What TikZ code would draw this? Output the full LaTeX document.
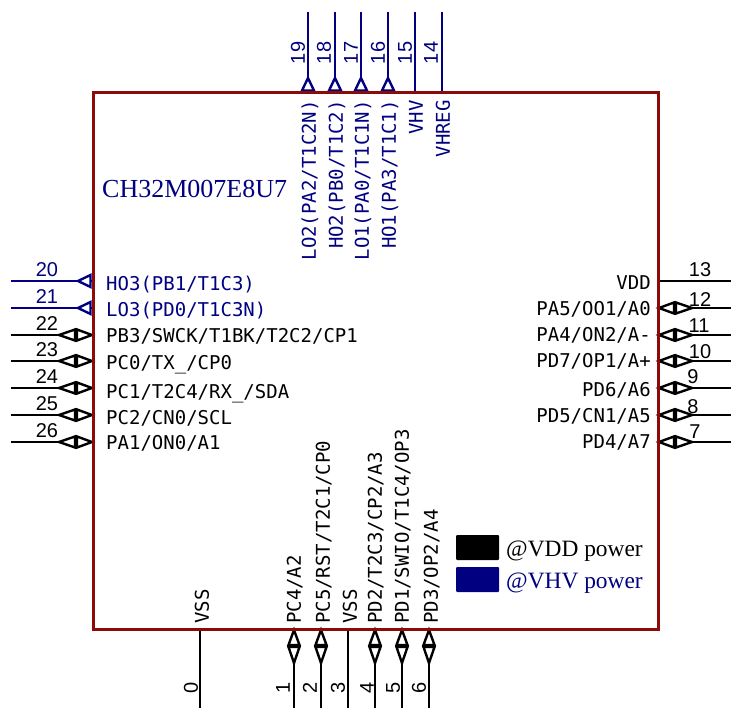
\documentclass[tikz,border=0pt]{standalone}
\usepackage{fontspec}
\setmainfont{Liberation Serif}
\newfontfamily\pinfont{DejaVu Sans Mono}
\newfontfamily\numfont{Liberation Sans}
\definecolor{boxred}{HTML}{8B0A0A}
\definecolor{vhvblue}{HTML}{000080}
\tikzset{
  x=1pt,y=-1pt,
  pinline/.style={line width=2.9pt,line join=miter},
  tribody/.style={line width=2.4pt,line join=miter,fill=white},
  pinlabel/.style={inner sep=0pt,text height=13.5pt,text depth=0pt,font=\pinfont\fontsize{19}{19}\selectfont},
  pinnum/.style={inner sep=0pt,font=\numfont\fontsize{20}{20}\selectfont},
  titletext/.style={inner sep=0pt,text height=17pt,text depth=0pt,font=\fontsize{26}{26}\selectfont},
  legendtext/.style={inner sep=0pt,text height=15.5pt,text depth=0pt,font=\fontsize{23.4}{24}\selectfont},
  pics/tout/.style={code={\draw[tribody] (2.5,6)--(15,0)--(2.5,-6)--cycle;}},
  pics/tbi/.style={code={
    \draw[tribody] (1,0)--(16,5.5)--(16,-5.5)--cycle;
    \draw[tribody] (18,5.5)--(34,0)--(18,-5.5)--cycle;}},
}
\begin{document}
\begin{tikzpicture}
\useasboundingbox (0,0) rectangle (731,708);
% top pins
\foreach \x/\n/\p/\t/\nx in {
 308/19/1/{LO2(PA2/T1C2N)}/298, 335/18/1/{HO2(PB0/T1C2)}/324, 361/17/1/{LO1(PA0/T1C1N)}/351, 388/16/1/{HO1(PA3/T1C1)}/378,
 415/15/0/{VHV}/405, 442/14/0/{VHREG}/431}{
  \coordinate (a\n) at (\x,93); \coordinate (b\n) at (\x,12);
  \draw[pinline,vhvblue] (a\n)--(b\n);
  \ifnum\p=1 \pic[vhvblue,rotate=90] at (a\n) {tout};\fi
  \node[pinnum,vhvblue,rotate=90] (num\n) at (\nx,53) {\n};
  \node[pinlabel,vhvblue,rotate=90,anchor=east] (lab\n) at (\x+1,100) {\t};
}
% left pins
\foreach \y/\n/\p/\t/\ly/\c in {
 281/20/1/{HO3(PB1/T1C3)}/284/vhvblue, 308/21/1/{LO3(PD0/T1C3N)}/310/vhvblue,
 335/22/2/{PB3/SWCK/T1BK/T2C2/CP1}/336/black, 361/23/2/{PC0/TX\_/CP0}/363/black,
 388/24/2/{PC1/T2C4/RX\_/SDA}/392/black, 415/25/2/{PC2/CN0/SCL}/418/black, 442/26/2/{PA1/ON0/A1}/443/black}{
  \coordinate (a\n) at (93,\y); \coordinate (b\n) at (11,\y);
  \draw[pinline,\c] (a\n)--(b\n);
  \ifnum\p=1 \pic[\c,rotate=180] at (a\n) {tout};\else \pic[\c,rotate=180] at (a\n) {tbi};\fi
  \node[pinnum,\c] (num\n) at (47,\y-11) {\n};
  \node[pinlabel,\c,anchor=west] (lab\n) at (106,\ly) {\t};
}
% right pins
\foreach \y/\n/\nx/\ny/\t/\ly/\p in {
 281/13/700/270/{VDD}/283/0, 308/12/700/300/{PA5/OO1/A0}/309/1, 335/11/699/326/{PA4/ON2/A-}/335/1,
 361/10/700/352/{PD7/OP1/A+}/361/1, 388/9/693/377/{PD6/A6}/390/1, 415/8/693/407/{PD5/CN1/A5}/416/1, 442/7/695/432/{PD4/A7}/442/1}{
  \coordinate (a\n) at (658,\y); \coordinate (b\n) at (731,\y);
  \draw[pinline] (a\n)--(b\n);
  \ifnum\p=1 \pic at (a\n) {tbi};\fi
  \node[pinnum] (num\n) at (\nx,\ny) {\n};
  \node[pinlabel,anchor=east] (lab\n) at (651,\ly) {\t};
}
% bottom pins
\foreach \x/\n/\nx/\lx/\t/\p in {
 200/0/191/202/{VSS}/0, 294/1/283/294/{PC4/A2}/1, 321/2/310/323/{PC5/RST/T2C1/CP0}/1, 348/3/338/350/{VSS}/0,
 375/4/367/375/{PD2/T2C3/CP2/A3}/1, 402/5/393/402/{PD1/SWIO/T1C4/OP3}/1, 429/6/419/431/{PD3/OP2/A4}/1}{
  \coordinate (a\n) at (\x,629); \coordinate (b\n) at (\x,708);
  \draw[pinline] (a\n)--(b\n);
  \ifnum\p=1 \pic[rotate=-90] at (a\n) {tbi};\fi
  \node[pinnum,rotate=90] (num\n) at (\nx,688) {\n};
  \node[pinlabel,rotate=90,anchor=west] (lab\n) at (\lx,624) {\t};
}
% body
\node[draw=boxred,line width=3pt,inner sep=0pt,outer sep=0pt,minimum width=565pt,minimum height=536pt,anchor=north west] (chip) at (93,93) {};
\node[titletext,vhvblue,anchor=west] (title) at (102,189) {CH32M007E8U7};
% legend
\node[fill=black,rounded corners=1pt,inner sep=0pt,outer sep=0pt,minimum width=43pt,minimum height=25pt,anchor=north west] (swvdd) at (456,535) {};
\node[fill=vhvblue,rounded corners=1pt,inner sep=0pt,outer sep=0pt,minimum width=43pt,minimum height=25pt,anchor=north west] (swvhv) at (456,567) {};
\node[legendtext,anchor=west] (lgvdd) at (506,549) {@VDD power};
\node[legendtext,vhvblue,anchor=west] (lgvhv) at (506,581) {@VHV power};
\end{tikzpicture}
\end{document}
